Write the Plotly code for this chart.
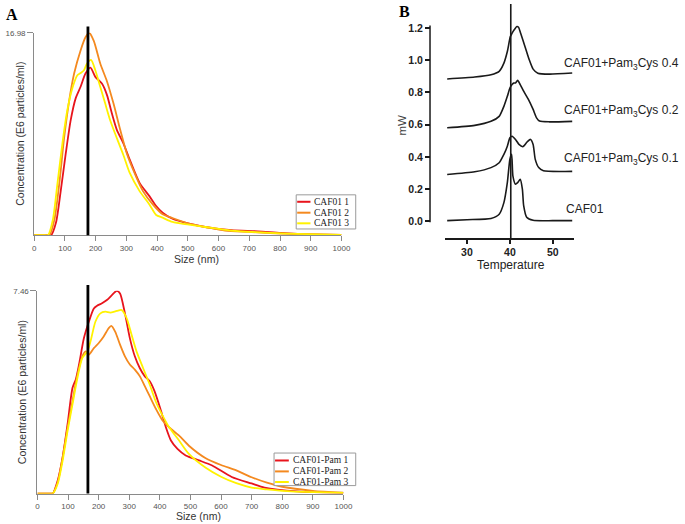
import plotly.graph_objects as go

W, H = 685, 524

# ---------------- Panel A (top): CAF01 size distributions ----------------
caf01_1_size = [0, 40, 55, 71, 87, 103, 119, 135, 151, 167, 183, 199, 210, 221, 237, 253, 269, 290, 311, 343, 375, 397, 418, 450, 504, 557, 642, 728, 803, 909, 1000]
caf01_1_conc = [0, 0, 0, 1.06, 3.83, 6.9, 9.67, 11.48, 12.45, 13.56, 14.06, 13.28, 13.0, 12.7, 11.75, 10.2, 8.84, 7.73, 6.34, 4.39, 3.28, 2.45, 1.89, 1.38, 0.97, 0.69, 0.42, 0.33, 0.19, 0.06, 0.02]

caf01_2_size = [0, 40, 50, 66, 82, 98, 114, 130, 151, 167, 179, 194, 215, 237, 258, 280, 301, 322, 354, 386, 418, 450, 504, 557, 621, 696, 803, 909, 1000]
caf01_2_conc = [0, 0, 0, 1.33, 4.39, 8.28, 11.3, 13.56, 15.5, 16.6, 16.98, 16.3, 14.4, 12.9, 11.06, 8.84, 6.9, 5.5, 3.7, 2.58, 1.75, 1.44, 0.97, 0.69, 0.39, 0.28, 0.14, 0.06, 0.02]

caf01_3_size = [0, 35, 45, 61, 76, 92, 108, 124, 140, 151, 162, 172, 185, 199, 215, 231, 247, 269, 290, 311, 343, 375, 397, 418, 450, 504, 557, 642, 749, 856, 1000]
caf01_3_conc = [0, 0, 0, 1.33, 4.39, 7.73, 10.5, 12.3, 13.4, 13.6, 13.84, 14.4, 14.7, 13.84, 12.45, 11.06, 9.67, 8.14, 6.75, 5.22, 3.7, 2.58, 1.7, 1.47, 1.11, 0.89, 0.69, 0.39, 0.22, 0.11, 0.03]

# ---------------- Panel A (bottom): CAF01-Pam size distributions ----------------
pam_1_size = [0, 40, 50, 66.5, 82.5, 98.6, 114.7, 125.4, 136, 152, 168.3, 184.4, 195, 211, 227, 243.4, 259.5, 270, 286, 302, 318.3, 334.4, 350.5, 366.6, 382.6, 404, 420, 436.3, 457.7, 484.5, 528, 571, 635, 700, 742, 850, 1000]
pam_1_conc = [0, 0, 0, 0.49, 1.34, 2.56, 3.89, 4.2, 4.75, 5.72, 6.33, 6.81, 6.91, 7.0, 7.12, 7.3, 7.46, 7.36, 6.63, 5.72, 5.05, 4.62, 4.32, 4.14, 3.77, 3.04, 2.43, 1.95, 1.64, 1.4, 1.22, 1.03, 0.61, 0.37, 0.22, 0.08, 0.02]

pam_2_size = [0, 40, 50, 66.5, 82.5, 98.6, 114.7, 130.8, 146.8, 157.5, 168.3, 184.4, 200.5, 216.6, 232.7, 241.2, 254, 270, 286, 302, 318.3, 334.4, 350.5, 366.6, 388, 409.5, 431, 463, 495, 550, 600, 650, 700, 750, 800, 900, 1000]
pam_2_conc = [0, 0, 0, 0.43, 1.34, 2.43, 3.41, 4.38, 5.05, 5.23, 5.11, 5.35, 5.54, 5.78, 6.08, 6.17, 5.96, 5.48, 5.05, 4.75, 4.56, 4.32, 3.96, 3.59, 3.1, 2.68, 2.43, 2.13, 1.76, 1.3, 1.05, 0.85, 0.6, 0.4, 0.25, 0.1, 0.03]

pam_3_size = [0, 40, 50, 66.5, 82.5, 98.6, 114.7, 130.8, 146.8, 163, 173.6, 189.7, 205.8, 221.9, 238, 259.5, 275.6, 291.7, 307.7, 323.8, 345.2, 366.6, 388, 409.5, 431, 463, 495, 550, 600, 650, 700, 750, 800, 900, 1000]
pam_3_conc = [0, 0, 0, 0.37, 1.22, 2.31, 3.29, 4.26, 4.99, 5.23, 5.6, 6.33, 6.63, 6.69, 6.66, 6.72, 6.75, 6.45, 5.84, 5.23, 4.62, 4.02, 3.35, 2.86, 2.43, 1.95, 1.46, 0.95, 0.62, 0.38, 0.22, 0.15, 0.1, 0.05, 0.02]

top_names = ["CAF01 1", "CAF01 2", "CAF01 3"]
bottom_names = ["CAF01-Pam 1", "CAF01-Pam 2", "CAF01-Pam 3"]
mode_top = 175      # black reference line (nm)
mode_bottom = 165
top_max = 16.98
bottom_max = 7.46
size_ticks = [0, 100, 200, 300, 400, 500, 600, 700, 800, 900, 1000]

# ---------------- Panel B: DSC thermograms ----------------
caf01_T = [25.4, 30, 35.6, 37.5, 38.6, 39.4, 40.0, 40.4, 40.7, 41.3, 41.8, 42.4, 42.9, 43.2, 43.9, 45.4, 50, 54.5]
caf01_mW = [0.004, 0.01, 0.018, 0.044, 0.116, 0.24, 0.385, 0.415, 0.28, 0.23, 0.24, 0.26, 0.2, 0.097, 0.025, 0.006, 0.004, 0.004]

p01_T = [25.4, 31.8, 35.6, 37.5, 38.6, 39.4, 40.0, 40.5, 41.3, 42.1, 43.0, 44.0, 44.8, 45.4, 45.9, 46.7, 47.8, 52.4, 54.5]
p01_mW = [0.29, 0.307, 0.333, 0.363, 0.415, 0.466, 0.518, 0.528, 0.508, 0.477, 0.463, 0.492, 0.508, 0.477, 0.384, 0.333, 0.313, 0.309, 0.31]

p02_T = [25.4, 31.8, 35.6, 37.5, 38.6, 39.4, 40.0, 40.5, 40.9, 41.3, 41.8, 42.4, 43.2, 44.3, 45.4, 46.2, 46.9, 49.2, 54.5]
p02_mW = [0.58, 0.595, 0.62, 0.651, 0.713, 0.775, 0.827, 0.848, 0.858, 0.858, 0.874, 0.848, 0.807, 0.756, 0.694, 0.642, 0.622, 0.617, 0.62]

p04_T = [25.4, 31.8, 35.6, 37.5, 38.6, 39.4, 40.1, 40.5, 41.0, 41.6, 42.0, 42.5, 43.5, 44.5, 45.4, 46.5, 49.2, 54.5]
p04_mW = [0.883, 0.895, 0.909, 0.93, 0.981, 1.053, 1.146, 1.167, 1.188, 1.208, 1.204, 1.167, 1.085, 1.002, 0.944, 0.919, 0.913, 0.92]

dsc_labels = ["CAF01", "CAF01+Pam<sub>3</sub>Cys 0.1", "CAF01+Pam<sub>3</sub>Cys 0.2", "CAF01+Pam<sub>3</sub>Cys 0.4"]
dsc_label_T = [52.5, 52.2, 52.2, 52.2]
dsc_label_mW = [0.074, 0.388, 0.683, 0.978]
tm_line = 40.2
mW_ticks = [0.0, 0.2, 0.4, 0.6, 0.8, 1.0, 1.2]
T_ticks = [30, 40, 50]

colors = ["#e8141c", "#f4891f", "#fff200"]


def px_x(p):
    return p / W


def px_y(p):
    return 1 - p / H


fig = go.Figure()

for xs, ys, c in zip([caf01_1_size, caf01_2_size, caf01_3_size],
                     [caf01_1_conc, caf01_2_conc, caf01_3_conc], colors):
    fig.add_trace(go.Scatter(x=xs, y=ys, mode="lines", line=dict(color=c, width=1.8, shape="spline", smoothing=0.7),
                             xaxis="x", yaxis="y", showlegend=False, hoverinfo="skip"))

for xs, ys, c in zip([pam_1_size, pam_2_size, pam_3_size],
                     [pam_1_conc, pam_2_conc, pam_3_conc], colors):
    fig.add_trace(go.Scatter(x=xs, y=ys, mode="lines", line=dict(color=c, width=1.8, shape="spline", smoothing=0.7),
                             xaxis="x2", yaxis="y2", showlegend=False, hoverinfo="skip"))

for xs, ys in zip([caf01_T, p01_T, p02_T, p04_T], [caf01_mW, p01_mW, p02_mW, p04_mW]):
    fig.add_trace(go.Scatter(x=xs, y=ys, mode="lines", line=dict(color="#1a1a1a", width=1.6, shape="spline", smoothing=0.6),
                             xaxis="x3", yaxis="y3", showlegend=False, hoverinfo="skip"))

axis_gray = "#8a8a8a"
tick_font = dict(family="Liberation Sans, Arial", size=8, color="#555555")

# domains (pixel geometry of the reference)
top_dom_y = [px_y(233), px_y(29)]
bot_dom_y = [px_y(493.3), px_y(289)]
A_dom_x_top = [px_x(32.7), px_x(345)]
A_dom_x_bot = [px_x(36), px_x(347)]

fig.update_layout(
    width=W, height=H, margin=dict(l=0, r=0, t=0, b=0),
    paper_bgcolor="white", plot_bgcolor="white", showlegend=False,
    xaxis=dict(domain=A_dom_x_top, range=[0, 1000], anchor="y", showline=True, linecolor=axis_gray, linewidth=1,
               ticks="outside", tickvals=size_ticks, ticklen=5, tickcolor=axis_gray, tickfont=tick_font,
               showgrid=False, zeroline=False),
    yaxis=dict(domain=top_dom_y, range=[0, top_max], anchor="x", showline=True, linecolor=axis_gray, linewidth=1,
               ticks="outside", tickvals=[top_max], ticktext=["16.98"], ticklen=6, tickcolor=axis_gray,
               tickfont=tick_font, showgrid=False, zeroline=False),
    xaxis2=dict(domain=A_dom_x_bot, range=[0, 1000], anchor="y2", showline=True, linecolor=axis_gray, linewidth=1,
                ticks="outside", tickvals=size_ticks, ticklen=5, tickcolor=axis_gray, tickfont=tick_font,
                showgrid=False, zeroline=False),
    yaxis2=dict(domain=bot_dom_y, range=[0, bottom_max], anchor="x2", showline=True, linecolor=axis_gray, linewidth=1,
                ticks="outside", tickvals=[bottom_max], ticktext=["7.46"], ticklen=6, tickcolor=axis_gray,
                tickfont=tick_font, showgrid=False, zeroline=False),
    xaxis3=dict(domain=[px_x(450.7), px_x(581.7)], range=[25, 55], anchor="y3", showline=True, linecolor="#1a1a1a",
                linewidth=1.5, ticks="outside", tickvals=T_ticks, ticklen=4, tickwidth=1.5, tickcolor="#1a1a1a",
                tickfont=dict(family="Liberation Sans, Arial", size=10.5, color="#222222", weight="bold"),
                showgrid=False, zeroline=False),
    yaxis3=dict(domain=[px_y(235.7), 1.0], range=[-0.103, 1.348], anchor="free", position=px_x(435),
                showline=False, ticks="outside", tickvals=mW_ticks, ticktext=["0.0", "0.2", "0.4", "0.6", "0.8", "1.0", "1.2"],
                ticklen=5, tickwidth=1.5, tickcolor="#1a1a1a",
                tickfont=dict(family="Liberation Sans, Arial", size=10.5, color="#222222", weight="bold"),
                showgrid=False, zeroline=False),
)

shapes = []
# reference lines through the modes
shapes.append(dict(type="line", xref="x", yref="y domain", x0=mode_top, x1=mode_top, y0=0, y1=1.031,
                   line=dict(color="black", width=2.8)))
shapes.append(dict(type="line", xref="x2", yref="y2 domain", x0=mode_bottom, x1=mode_bottom, y0=0, y1=1.029,
                   line=dict(color="black", width=2.8)))
shapes.append(dict(type="line", xref="x3", yref="y3", x0=tm_line, x1=tm_line, y0=-0.103, y1=1.348,
                   line=dict(color="#1a1a1a", width=1.6)))
# panel B y axis line (offset axis)
shapes.append(dict(type="line", xref="paper", yref="y3", x0=px_x(435), x1=px_x(435), y0=-0.006, y1=1.214,
                   line=dict(color="#1a1a1a", width=1.5)))

annotations = []


def legend_box(x0, x1, ytop, ybot, rows, line_x0, line_x1, text_x, names):
    shapes.append(dict(type="rect", xref="paper", yref="paper", x0=px_x(x0), x1=px_x(x1), y0=px_y(ybot), y1=px_y(ytop),
                       line=dict(color="#9a9a9a", width=1), fillcolor="white"))
    for yy, c, nm in zip(rows, colors, names):
        shapes.append(dict(type="line", xref="paper", yref="paper", x0=px_x(line_x0), x1=px_x(line_x1),
                           y0=px_y(yy), y1=px_y(yy), line=dict(color=c, width=2)))
        annotations.append(dict(xref="paper", yref="paper", x=px_x(text_x), y=px_y(yy), text=nm, showarrow=False,
                                xanchor="left", yanchor="middle",
                                font=dict(family="Liberation Serif, Times New Roman", size=9.5, color="#222222")))


legend_box(299, 359.5, 192.3, 226.7, [199.3, 210.3, 221.0], 300, 313.5, 315.5, top_names)
legend_box(276.5, 359.5, 452.5, 485.3, [460.0, 471.0, 481.7], 277.5, 291.5, 293.5, bottom_names)

axis_title_font = dict(family="Liberation Sans, Arial", size=10.5, color="#333333")
annotations += [
    dict(xref="paper", yref="paper", x=px_x(198), y=px_y(257), text="Size (nm)", showarrow=False,
         xanchor="center", yanchor="middle", font=axis_title_font),
    dict(xref="paper", yref="paper", x=px_x(200), y=px_y(516), text="Size (nm)", showarrow=False,
         xanchor="center", yanchor="middle", font=axis_title_font),
    dict(xref="paper", yref="paper", x=px_x(18), y=px_y(131), text="Concentration (E6 particles/ml)", showarrow=False,
         textangle=-90, xanchor="center", yanchor="middle", font=axis_title_font),
    dict(xref="paper", yref="paper", x=px_x(20.5), y=px_y(391), text="Concentration (E6 particles/ml)", showarrow=False,
         textangle=-90, xanchor="center", yanchor="middle", font=axis_title_font),
    dict(xref="paper", yref="paper", x=px_x(407), y=px_y(122), text="mW", showarrow=False,
         textangle=-90, xanchor="center", yanchor="middle",
         font=dict(family="Liberation Sans, Arial", size=11.5, color="#444444")),
    dict(xref="paper", yref="paper", x=px_x(517), y=px_y(263), text="Temperature", showarrow=False,
         xanchor="center", yanchor="middle",
         font=dict(family="Liberation Sans, Arial", size=12, color="#222222")),
    dict(xref="paper", yref="paper", x=px_x(2), y=px_y(11), text="<b>A</b>", showarrow=False,
         xanchor="left", yanchor="middle",
         font=dict(family="Liberation Serif, Times New Roman", size=16, color="black")),
    dict(xref="paper", yref="paper", x=px_x(401), y=px_y(8), text="<b>B</b>", showarrow=False,
         xanchor="left", yanchor="middle",
         font=dict(family="Liberation Serif, Times New Roman", size=16, color="black")),
]

for lab, t, v in zip(dsc_labels, dsc_label_T, dsc_label_mW):
    annotations.append(dict(xref="x3", yref="y3", x=t, y=v, text=lab, showarrow=False, xanchor="left",
                            yanchor="middle", font=dict(family="Liberation Sans, Arial", size=12, color="#222222")))

fig.update_layout(shapes=shapes, annotations=annotations)

fig.write_html("out.html", config={"displayModeBar": False},
               post_script="document.body.style.margin='0px';document.body.style.overflow='hidden';")
